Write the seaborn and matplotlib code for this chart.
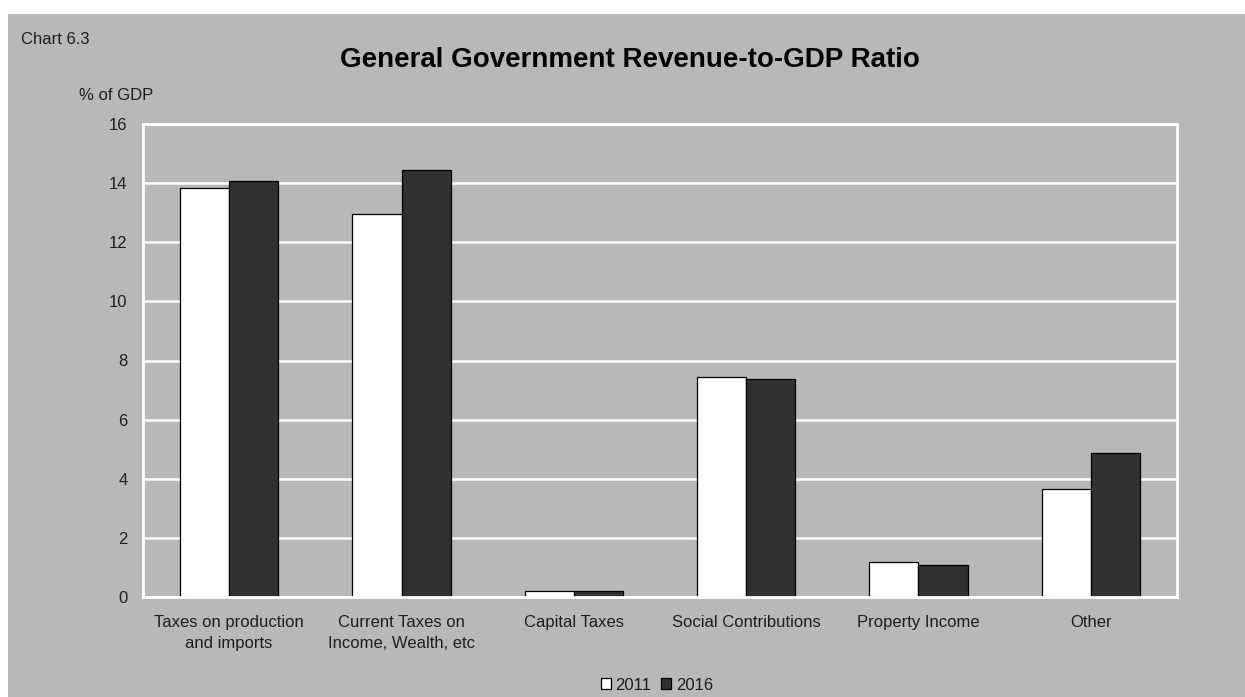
import matplotlib
matplotlib.use("Agg")
import matplotlib.pyplot as plt
from matplotlib.patches import Rectangle, Patch
import seaborn as sns
import pandas as pd

categories = [
    "Taxes on production\nand imports",
    "Current Taxes on\nIncome, Wealth, etc",
    "Capital Taxes",
    "Social Contributions",
    "Property Income",
    "Other",
]
years = ["2011", "2016"]
values_2011 = [13.85, 12.97, 0.20, 7.44, 1.19, 3.64]
values_2016 = [14.08, 14.43, 0.20, 7.37, 1.08, 4.87]
y_ticks = [0, 2, 4, 6, 8, 10, 12, 14, 16]

df = pd.DataFrame({
    "category": categories * 2,
    "year": [years[0]] * len(categories) + [years[1]] * len(categories),
    "value": values_2011 + values_2016,
})

sns.set_theme(style="white")
plt.rcParams["font.family"] = ["Liberation Sans", "DejaVu Sans"]

BG = "#b7b8bc"
DARK = "#303134"
TXT = "#1e1e1e"
W, H = 1245, 697

fig = plt.figure(figsize=(W / 100, H / 100), dpi=100)
fig.patch.set_facecolor("white")
fig.add_artist(Rectangle((8 / W, 0), 1 - 8 / W, 1 - 14 / H,
                         transform=fig.transFigure, facecolor=BG,
                         edgecolor="none", zorder=0))

ax = fig.add_axes([143 / W, 1 - 597 / H, (1177 - 143) / W, (597 - 124) / H])
ax.set_facecolor(BG)

sns.barplot(data=df, x="category", y="value", hue="year",
            palette={"2011": "white", "2016": DARK},
            width=0.57, gap=0, edgecolor="black", linewidth=0.9,
            legend=False, ax=ax, zorder=3)

ax.set_ylim(0, 16)
ax.set_xlim(-0.5, len(categories) - 0.5)
ax.set_yticks(y_ticks)
ax.set_yticklabels([str(t) for t in y_ticks], fontsize=12, color=TXT)
ax.yaxis.grid(True, color="white", linewidth=1.8, zorder=1)
ax.set_axisbelow(True)
ax.set_xlabel("")
ax.set_ylabel("")
ax.tick_params(axis="y", length=0, pad=11)
ax.tick_params(axis="x", which="major", length=0, pad=13,
               labelsize=12, labelcolor=TXT)
for lbl in ax.get_xticklabels():
    lbl.set_linespacing(1.5)
ax.set_xticks([i + 0.5 for i in range(len(categories) - 1)], minor=True)
ax.tick_params(axis="x", which="minor", direction="in", length=5,
               width=2, color="white")
for side in ["left", "bottom", "right", "top"]:
    ax.spines[side].set_color("white")
    ax.spines[side].set_linewidth(2)
    ax.spines[side].set_zorder(4)

fig.text(630 / W, 1 - 60 / H, "General Government Revenue-to-GDP Ratio",
         ha="center", va="center", fontsize=20, fontweight="bold",
         color="black")
fig.text(21 / W, 1 - 39 / H, "Chart 6.3", ha="left", va="center",
         fontsize=12, color=TXT)
fig.text(79 / W, 1 - 96 / H, "% of GDP", ha="left", va="center",
         fontsize=12, color=TXT)

handles = [Patch(facecolor="white", edgecolor="black", linewidth=0.9),
           Patch(facecolor=DARK, edgecolor="black", linewidth=0.9)]
fig.legend(handles, years, loc="center", bbox_to_anchor=(657 / W, 1 - 685 / H),
           ncol=2, frameon=False, fontsize=12, handlelength=0.6,
           handleheight=0.6, handletextpad=0.3, columnspacing=0.6,
           labelcolor=TXT, borderpad=0)

fig.savefig("out.png", dpi=100, facecolor=fig.get_facecolor())
